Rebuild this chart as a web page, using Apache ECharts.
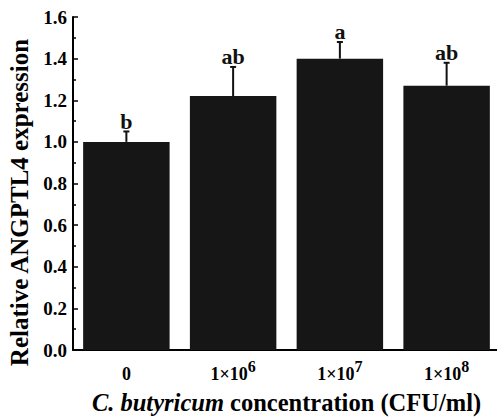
<!DOCTYPE html>
<html>
<head>
<meta charset="utf-8">
<script src="https://cdn.jsdelivr.net/npm/echarts@6/dist/echarts.min.js"></script>
<style>
html, body { margin: 0; padding: 0; background: #fff; }
#container { width: 497px; height: 419px; }
</style>
</head>
<body>
<div id="container"></div>
<script>
// values
var categories = ['0', '6', '7', '8'];   // exponent of 1x10^n, '0' = control
var means = [1.00, 1.22, 1.40, 1.27];
var errors = [0.05, 0.14, 0.08, 0.11];
var letters = ['b', 'ab', 'a', 'ab'];

var serif = '"Liberation Serif", "Times New Roman", serif';

var errData = means.map(function (m, i) {
	return [i, m, errors[i]];
});

var option = {
	animation: false,
	backgroundColor: '#fff',
	grid: {
		left: 73,
		width: 427,
		top: 17,
		bottom: 69,
		outerBoundsMode: 'none',
		containLabel: false
	},
	xAxis: {
		type: 'category',
		data: categories,
		name: '{i|C. butyricum} concentration (CFU/ml)',
		nameLocation: 'middle',
		nameGap: 40,
		nameTextStyle: {
			fontFamily: serif,
			fontWeight: 'bold',
			fontSize: 24.5,
			color: '#000',
			rich: {
				i: {
					fontFamily: serif,
					fontWeight: 'bold',
					fontStyle: 'italic',
					fontSize: 24.5,
					color: '#000'
				}
			}
		},
		axisLine: {
			lineStyle: { color: '#000', width: 2 }
		},
		axisTick: {
			inside: true,
			length: 3,
			lineStyle: { color: '#000', width: 1.5 }
		},
		axisLabel: {
			margin: 8,
			formatter: function (v) {
				if (v === '0') return '{n|0}';
				return '{n|1×10}{s|' + v + '}';
			},
			rich: {
				n: {
					fontFamily: serif,
					fontWeight: 'bold',
					fontSize: 18,
					color: '#000',
					lineHeight: 32
				},
				s: {
					fontFamily: serif,
					fontWeight: 'bold',
					fontSize: 16,
					color: '#000',
					lineHeight: 16,
					verticalAlign: 'top'
				}
			}
		}
	},
	yAxis: {
		type: 'value',
		min: 0,
		max: 1.6,
		interval: 0.2,
		name: 'Relative ANGPTL4 expression',
		nameLocation: 'middle',
		nameGap: 40,
		nameTextStyle: {
			fontFamily: serif,
			fontWeight: 'bold',
			fontSize: 25,
			color: '#000',
			padding: [0, 38, 0, 0]
		},
		splitLine: { show: false },
		axisLine: {
			show: true,
			lineStyle: { color: '#000', width: 2 }
		},
		axisTick: {
			show: true,
			inside: true,
			length: 5,
			lineStyle: { color: '#000', width: 1.5 }
		},
		minorTick: {
			show: true,
			splitNumber: 2,
			length: 3,
			lineStyle: { color: '#000', width: 1.5 }
		},
		axisLabel: {
			margin: 6,
			fontFamily: serif,
			fontWeight: 'bold',
			fontSize: 19,
			color: '#000',
			formatter: function (v) {
				return v.toFixed(1);
			}
		}
	},
	series: [{
		type: 'bar',
		data: means,
		barWidth: '81%',
		itemStyle: { color: '#161616' }
	}, {
		type: 'custom',
		data: errData,
		z: 5,
		renderItem: function (params, api) {
			var i = params.dataIndex;
			var base = api.coord([api.value(0), api.value(1)]);
			var top = api.coord([api.value(0), api.value(1) + api.value(2)]);
			var x = base[0];
			return {
				type: 'group',
				children: [{
					type: 'line',
					shape: { x1: x, y1: base[1], x2: x, y2: top[1] },
					style: { stroke: '#111', lineWidth: 2 }
				}, {
					type: 'line',
					shape: { x1: x - 3, y1: top[1], x2: x + 3, y2: top[1] },
					style: { stroke: '#111', lineWidth: 2 }
				}, {
					type: 'text',
					x: x,
					y: top[1] + 1,
					style: {
						text: letters[i],
						fontFamily: serif,
						fontWeight: 'bold',
						fontSize: 22,
						fill: '#111',
						align: 'center',
						verticalAlign: 'bottom'
					}
				}]
			};
		}
	}]
};

var myChart = window.echarts.init(document.getElementById('container'), null, {
	renderer: 'svg'
});
myChart.setOption(option);
</script>
</body>
</html>
